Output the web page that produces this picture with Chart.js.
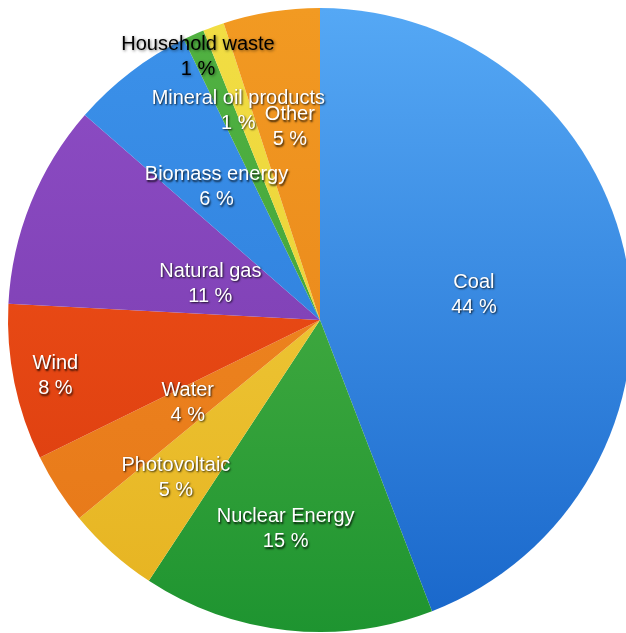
<!DOCTYPE html>
<html>
<head>
<meta charset="utf-8">
<script src="https://cdn.jsdelivr.net/npm/chart.js@4/dist/chart.umd.min.js"></script>
<style>
  html, body { margin: 0; padding: 0; background: #fff; overflow: hidden; }
  #wrap { width: 640px; height: 640px; position: absolute; left: 0; top: 0; }
</style>
</head>
<body>
<div id="wrap"><canvas id="pie"></canvas></div>
<script>
    // energy mix, share in percent (slice sizes)
    const sources = ['Coal', 'Nuclear Energy', 'Photovoltaic', 'Water', 'Wind', 'Natural gas',
      'Biomass energy', 'Mineral oil products', 'Household waste', 'Other'];
    const shares = [44.2, 15.1, 4.8, 3.7, 8.1, 10.6, 6.4, 1.1, 1.1, 5.0];

    // slice colours, lighter at the top and darker at the bottom
    const topColors = ['#55a8f5', '#5cba4c', '#f2d444', '#f28e24', '#f5561a', '#8e4ec6',
      '#3c92ea', '#52b242', '#f2de44', '#f29a22'];
    const bottomColors = ['#1866ca', '#1e9430', '#e6b220', '#e67618', '#d83a0e', '#7638aa',
      '#2876d6', '#389e36', '#e6ca2e', '#e67e18'];

    // label placement: radius as a fraction of the pie radius, angle shift in degrees
    const labelRadius = [0.50, 0.68, 0.685, 0.50, 0.867, 0.37, 0.54, 0.72, 0.93, 0.625];
    const labelShift = [1.2, 3.2, 0.5, 0.8, -0.4, -3.8, -0.5, 2.6, -4.9, 0.1];
    const labelDark = [false, false, false, false, false, false, false, false, true, false];

    function slideColor(ctx, list1, list2) {
      const area = ctx.chart.chartArea;
      if (!area) return list1[ctx.dataIndex];
      const g = ctx.chart.ctx.createLinearGradient(0, area.top, 0, area.bottom);
      g.addColorStop(0, list1[ctx.dataIndex]);
      g.addColorStop(1, list2[ctx.dataIndex]);
      return g;
    }

    const sliceLabels = {
      id: 'sliceLabels',
      afterDatasetsDraw(chart) {
        const ctx = chart.ctx;
        const meta = chart.getDatasetMeta(0);
        ctx.save();
        ctx.font = '20px "Liberation Sans", Arial, sans-serif';
        ctx.textAlign = 'center';
        ctx.textBaseline = 'middle';
        meta.data.forEach((arc, i) => {
          const p = arc.getProps(['x', 'y', 'startAngle', 'endAngle', 'outerRadius'], true);
          const a = (p.startAngle + p.endAngle) / 2 + labelShift[i] * Math.PI / 180;
          const r = p.outerRadius * labelRadius[i];
          const cx = p.x + Math.cos(a) * r;
          const cy = p.y + Math.sin(a) * r;
          const lines = [sources[i], Math.round(shares[i]) + ' %'];
          if (labelDark[i]) {
            ctx.fillStyle = '#000';
            ctx.shadowColor = 'rgba(0,0,0,0.55)';
            ctx.shadowBlur = 3;
            ctx.shadowOffsetX = 1;
            ctx.shadowOffsetY = 1;
          } else {
            ctx.fillStyle = '#fff';
            ctx.shadowColor = 'rgba(0,0,0,0.8)';
            ctx.shadowBlur = 2;
            ctx.shadowOffsetX = 1;
            ctx.shadowOffsetY = 1.5;
          }
          ctx.fillText(lines[0], cx, cy - 12.5);
          ctx.fillText(lines[1], cx, cy + 12.5);
        });
        ctx.restore();
      }
    };

    new Chart(document.getElementById('pie'), {
      type: 'pie',
      data: {
        labels: sources,
        datasets: [{
          data: shares,
          backgroundColor: c => slideColor(c, topColors, bottomColors),
          borderWidth: 0
        }]
      },
      options: {
        responsive: true,
        maintainAspectRatio: false,
        animation: false,
        layout: { padding: 8 },
        plugins: {
          legend: { display: false },
          tooltip: { enabled: false }
        }
      },
      plugins: [sliceLabels]
    });
</script>
</body>
</html>
